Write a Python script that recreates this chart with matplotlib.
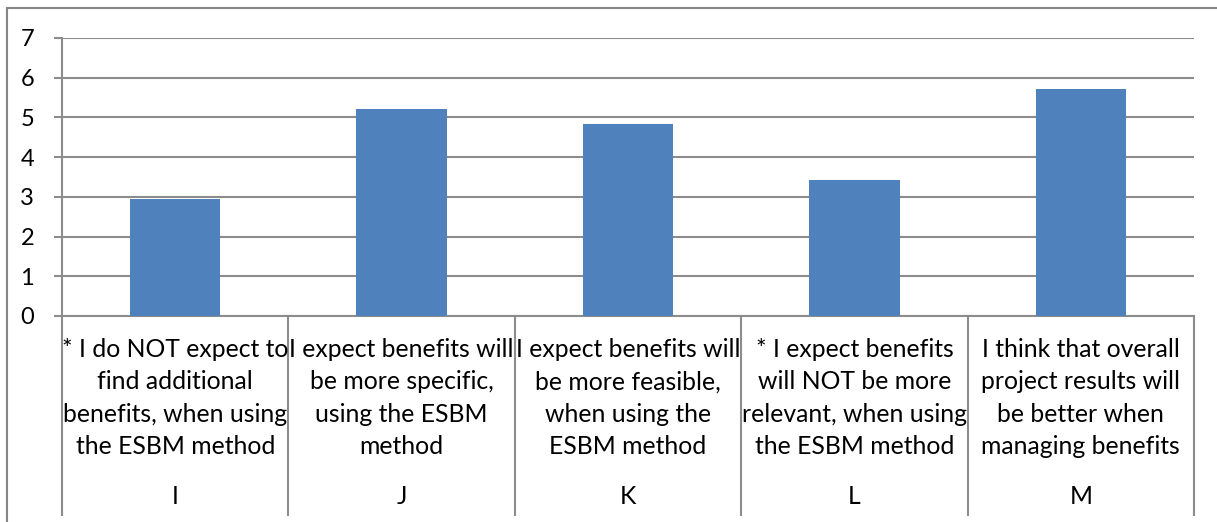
import matplotlib.pyplot as plt
import matplotlib.transforms as mtransforms
from matplotlib.patches import Rectangle

# data
codes = ['I', 'J', 'K', 'L', 'M']
statements = [
    "* I do NOT expect to\nfind additional\nbenefits, when using\nthe ESBM method",
    "I expect benefits will\nbe more specific,\nusing the ESBM\nmethod",
    "I expect benefits will\nbe more feasible,\nwhen using the\nESBM method",
    "* I expect benefits\nwill NOT be more\nrelevant, when using\nthe ESBM method",
    "I think that overall\nproject results will\nbe better when\nmanaging benefits",
]
values = [2.95, 5.21, 4.83, 3.43, 5.72]
yticks = [0, 1, 2, 3, 4, 5, 6, 7]

plt.rcParams['font.family'] = ['Lato', 'DejaVu Sans']
W, H = 1217, 522
fig = plt.figure(figsize=(W / 100, H / 100), dpi=100)
ax = fig.add_axes([62 / W, (H - 316) / H, (1194 - 62) / W, (316 - 38) / H])

grid_col = '#8c8c8c'
x = list(range(len(codes)))
ax.bar(x, values, width=0.4, color='#4f81bd', zorder=3)
ax.set_xlim(-0.5, len(codes) - 0.5)
ax.set_ylim(0, 7)
ax.set_yticks(yticks)
ax.set_yticklabels([str(t) for t in yticks], fontsize=17)
ax.yaxis.grid(True, color=grid_col, linewidth=1.5, zorder=0)
ax.set_xticks([])
ax.tick_params(axis='y', length=6, width=1.5, color=grid_col, pad=14)
for s in ['top', 'right']:
    ax.spines[s].set_visible(False)
for s in ['left', 'bottom']:
    ax.spines[s].set_color(grid_col)
    ax.spines[s].set_linewidth(1.5)

# category axis: separators and two-level labels
trans = mtransforms.blended_transform_factory(ax.transData, ax.transAxes)
h = 316 - 38
bottom = -(515 - 316) / h
for b in [i - 0.5 for i in range(len(codes) + 1)]:
    ax.plot([b, b], [0, bottom], transform=trans, color=grid_col,
            linewidth=1.5, clip_on=False)
for i, (code, text) in enumerate(zip(codes, statements)):
    ax.text(i, -(398 - 316) / h, text, transform=trans, ha='center',
            va='center', fontsize=17.8, linespacing=1.5)
    ax.text(i, -(497 - 316) / h, code, transform=trans, ha='center',
            va='center', fontsize=17.8)

# outer chart border
fig.add_artist(Rectangle((7 / W, -0.1), 1.2, (H - 8) / H + 0.1,
                         transform=fig.transFigure, fill=False,
                         edgecolor='#868686', linewidth=1.5))

fig.savefig('out.png', dpi=100)
